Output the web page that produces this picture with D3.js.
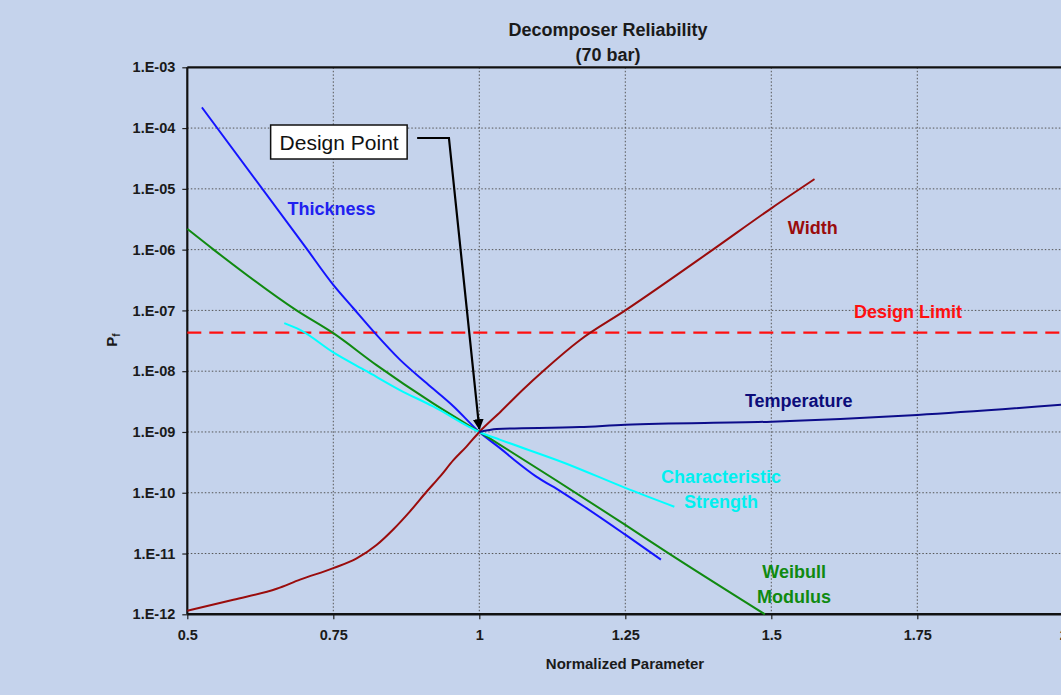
<!DOCTYPE html>
<html><head><meta charset="utf-8">
<script src="https://cdn.jsdelivr.net/npm/d3@7"></script>
<style>
html,body{margin:0;padding:0;background:#C5D3EC;overflow:hidden;}
text{font-family:"Liberation Sans",Arial,sans-serif;}
</style></head>
<body>
<svg id="chart" width="1061" height="695"></svg>
<script>
// ---------- data ----------
const xTicks = [0.5, 0.75, 1, 1.25, 1.5, 1.75, 2];
const yTicks = [1e-3,1e-4,1e-5,1e-6,1e-7,1e-8,1e-9,1e-10,1e-11,1e-12];

const thicknessX = [0.525, 0.704, 0.75, 0.784, 0.821, 0.864, 0.910, 0.956, 1.0, 1.036, 1.060, 1.097, 1.140, 1.183, 1.25, 1.311];
const thicknessLog = [-3.66, -5.98, -6.58, -6.96, -7.37, -7.81, -8.20, -8.58, -9.0, -9.27, -9.46, -9.73, -9.98, -10.25, -10.69, -11.10];

const weibullX = [0.5, 0.545, 0.687, 0.75, 0.824, 0.921, 1.0, 1.25, 1.323, 1.489];
const weibullLog = [-5.66, -6.0, -7.0, -7.375, -7.90, -8.53, -9.0, -10.53, -10.99, -12.0];

const strengthX = [0.666, 0.693, 0.75, 0.807, 0.864, 0.921, 1.0, 1.036, 1.146, 1.25, 1.334];
const strengthLog = [-7.21, -7.32, -7.69, -8.0, -8.31, -8.58, -9.0, -9.13, -9.51, -9.92, -10.23];

const widthX = [0.5, 0.579, 0.653, 0.693, 0.75, 0.790, 0.824, 0.853, 0.881, 0.910, 0.933, 0.956, 0.978, 1.0, 1.036, 1.075, 1.109, 1.172, 1.25, 1.40, 1.5, 1.574];
const widthLog = [-11.94, -11.76, -11.58, -11.43, -11.24, -11.08, -10.86, -10.60, -10.31, -9.98, -9.73, -9.46, -9.24, -9.0, -8.67, -8.30, -8.0, -7.49, -7.0, -6.0, -5.32, -4.84];

const temperatureX = [1.0, 1.03, 1.172, 1.25, 1.5, 1.75, 2.0];
const temperatureLog = [-9.0, -8.95, -8.92, -8.88, -8.83, -8.72, -8.55];

const designLimit = 4.3e-8;
const designPoint = {x: 1.0, y: 1e-9};

const toPts = (xs, logs) => xs.map((x, i) => ({x: x, y: Math.pow(10, logs[i])}));

const series = [
  {name: "Thickness", color: "#1414FF", pts: toPts(thicknessX, thicknessLog)},
  {name: "Weibull", color: "#108A10", pts: toPts(weibullX, weibullLog)},
  {name: "Strength", color: "#00FFFF", pts: toPts(strengthX, strengthLog)},
  {name: "Width", color: "#9A0C0C", pts: toPts(widthX, widthLog)},
  {name: "Temperature", color: "#0C0C8A", pts: toPts(temperatureX, temperatureLog)}
];

// labels placed in data space
const labels = [
  {lines: ["Thickness"], x: 0.747, y: 4.8e-6, color: "#2020F0"},
  {lines: ["Width"], x: 1.571, y: 2.3e-6, color: "#9A0C0C"},
  {lines: ["Design Limit"], x: 1.734, y: 9.5e-8, color: "#FF1010"},
  {lines: ["Temperature"], x: 1.547, y: 3.3e-9, color: "#0C0C7A"},
  {lines: ["Characteristic", "Strength"], x: 1.414, y: 1.15e-10, color: "#00F0F0"},
  {lines: ["Weibull", "Modulus"], x: 1.539, y: 3.1e-12, color: "#108A10"}
];

// ---------- layout ----------
const svg = d3.select("#chart");
const pLeft = 187.3, pRight = 1063.3, pTop = 67.3, pBottom = 614.3;
const x = d3.scaleLinear().domain([0.5, 2]).range([pLeft, pRight]);
const y = d3.scaleLog().domain([1e-12, 1e-3]).range([pBottom, pTop]);

// grid
const g = svg.append("g");
g.selectAll(".vg").data(xTicks.slice(1, -1)).enter().append("line")
  .attr("x1", d => x(d)).attr("x2", d => x(d)).attr("y1", pTop).attr("y2", pBottom)
  .attr("stroke", "#555").attr("stroke-width", 1).attr("stroke-dasharray", "1.5,2");
g.selectAll(".hg").data(yTicks.slice(1, -1)).enter().append("line")
  .attr("x1", pLeft).attr("x2", pRight).attr("y1", d => y(d)).attr("y2", d => y(d))
  .attr("stroke", "#555").attr("stroke-width", 1).attr("stroke-dasharray", "1.5,2");

// axes
const fmt = d => "1.E-" + String(Math.round(-Math.log10(d))).padStart(2, "0");
const yAxis = d3.axisLeft(y).tickValues(yTicks).tickFormat(fmt).tickSize(5).tickPadding(7);
const xAxis = d3.axisBottom(x).tickValues(xTicks).tickFormat(d3.format("")).tickSize(5).tickPadding(10);
const ya = svg.append("g").attr("transform", `translate(${pLeft},0)`).call(yAxis);
const xa = svg.append("g").attr("transform", `translate(0,${pBottom})`).call(xAxis);
[ya, xa].forEach(a => {
  a.select(".domain").remove();
  a.selectAll(".tick line").attr("stroke", "#222").attr("stroke-width", 1.2);
  a.selectAll(".tick text").attr("fill", "#1a1a1a").style("font-size", "14.5px").style("font-weight", "bold")
    .style("font-family", "'Liberation Sans', Arial, sans-serif");
});

// frame
svg.append("line").attr("x1", pLeft).attr("x2", pRight).attr("y1", pTop).attr("y2", pTop).attr("stroke", "#111").attr("stroke-width", 2.2);
svg.append("line").attr("x1", pLeft).attr("x2", pRight).attr("y1", pBottom).attr("y2", pBottom).attr("stroke", "#111").attr("stroke-width", 2.5);
svg.append("line").attr("x1", pLeft).attr("x2", pLeft).attr("y1", pTop).attr("y2", pBottom).attr("stroke", "#111").attr("stroke-width", 2.2);

// design limit
svg.append("line").attr("x1", pLeft).attr("x2", pRight).attr("y1", y(designLimit)).attr("y2", y(designLimit))
  .attr("stroke", "#FF1010").attr("stroke-width", 2.2).attr("stroke-dasharray", "14,8");

// series
const line = d3.line().x(d => x(d.x)).y(d => y(d.y)).curve(d3.curveMonotoneX);
svg.append("g").selectAll("path").data(series).enter().append("path")
  .attr("d", d => line(d.pts)).attr("fill", "none")
  .attr("stroke", d => d.color).attr("stroke-width", 2).attr("stroke-linejoin", "round");

// series labels
labels.forEach(l => {
  const t = svg.append("text").attr("x", x(l.x)).attr("y", y(l.y)).attr("text-anchor", "middle")
    .attr("fill", l.color).style("font-size", "18px").style("font-weight", "bold");
  l.lines.forEach((s, i) => t.append("tspan").attr("x", x(l.x)).attr("dy", i === 0 ? "0.35em" : "1.38em").text(s));
  if (l.lines.length > 1) t.attr("y", y(l.y) - 12.5);
});

// design point annotation
const boxCx = 0.760, boxCy = 5.9e-5, elbowX = 0.948;
const bx = x(boxCx), by = y(boxCy);
svg.append("defs").append("marker").attr("id", "ah").attr("viewBox", "0 0 10 10").attr("refX", 9).attr("refY", 5)
  .attr("markerWidth", 5).attr("markerHeight", 5).attr("orient", "auto")
  .append("path").attr("d", "M0,0 L10,5 L0,10 z").attr("fill", "#000");
svg.append("path")
  .attr("d", `M${bx + 78},${by - 4} L${x(elbowX)},${by - 4} L${x(designPoint.x)},${y(designPoint.y) - 3}`)
  .attr("fill", "none").attr("stroke", "#000").attr("stroke-width", 2.2).attr("marker-end", "url(#ah)");
svg.append("rect").attr("x", bx - 68.5).attr("y", by - 17).attr("width", 136.5).attr("height", 34)
  .attr("fill", "#fff").attr("stroke", "#111").attr("stroke-width", 1.5);
svg.append("text").attr("x", bx).attr("y", by).attr("dy", "0.36em").attr("text-anchor", "middle")
  .attr("fill", "#111").style("font-size", "21px").text("Design Point");

// titles
svg.append("text").attr("x", 608).attr("y", 30).attr("dy", "0.35em").attr("text-anchor", "middle")
  .attr("fill", "#1a1a1a").style("font-size", "18px").style("font-weight", "bold").text("Decomposer Reliability");
svg.append("text").attr("x", 608).attr("y", 55).attr("dy", "0.35em").attr("text-anchor", "middle")
  .attr("fill", "#1a1a1a").style("font-size", "18px").style("font-weight", "bold").text("(70 bar)");
svg.append("text").attr("x", 625).attr("y", 664).attr("dy", "0.35em").attr("text-anchor", "middle")
  .attr("fill", "#1a1a1a").style("font-size", "15px").style("font-weight", "bold").text("Normalized Parameter");
const yt = svg.append("text").attr("transform", "translate(117,340) rotate(-90)").attr("text-anchor", "middle")
  .attr("fill", "#1a1a1a").style("font-size", "15px").style("font-weight", "bold");
yt.append("tspan").text("P");
yt.append("tspan").attr("dy", "3").style("font-size", "10px").text("f");
</script>
</body></html>
